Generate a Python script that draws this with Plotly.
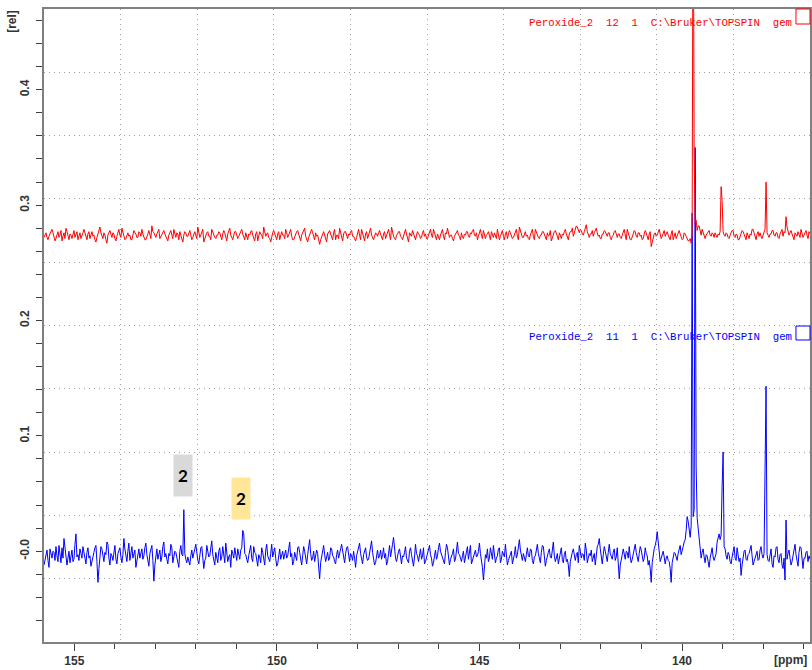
import numpy as np
import plotly.graph_objects as go

# ---------------- data ----------------
# displayed ppm window (left edge -> right edge of the plot)
PPM_LEFT = 155.75
PPM_RIGHT = 136.84

# spectrum intensities in milli-rel (1/1000 of [rel]), one value per display point, left -> right
blue_mrel = [
    -12, -7, -3, 1, -8, -14, 2, -3, -6, 0, -1, -8, 4, -4, -9, 5, -2, -10, 3, -6, 11, 2, -4, -12, -6, 0, -10, -3, 1, -9, -7, 6, 15, -5, -3, -8, 2, -2, -6, 4, -2, -9, -11, -1, 3, -6, -4, -13,
    -8, -4, -1, 3, 5, -9, -27, -15, -6, 4, 2, -5, -9, -1, -3, 8, 6, -6, -12, -2, -4, -8, 1, 5, -7, -11, -2, 0, 3, -5, -10, -3, 11, 2, -5, -9, 0, 7, -8, -3, 4, -6, -3, 1, -14, -8, -1, 2,
    -6, -1, 2, -7, -4, 3, 7, -3, -9, -13, -2, 1, 5, -8, -26, -12, -3, 2, -7, -4, 1, -9, -5, 4, 8, -5, -2, -7, -11, -2, -4, 6, 3, -10, -6, 0, -1, -5, -9, -14, 0, 5, -3, -4, 36, -2, -7, -10,
    -5, -9, -12, -4, 1, -6, -3, 2, 6, -2, -8, -11, -2, 3, 4, -7, -15, -8, -6, 5, 0, -5, -4, 1, 9, -3, -7, -12, -1, -6, -10, 0, 3, -8, -5, 4, -2, -10, 7, -1, -9, -5, -3, -14, 1, -2, -6, 3,
    -4, -8, 2, -3, -7, 1, 3, 18, 15, -2, -3, -7, -10, -4, 0, 5, -6, -9, 4, -1, -2, -6, -13, -3, -5, -10, 3, -1, -8, -12, 1, 6, -4, -6, -9, -2, 6, -5, -2, 3, -6, -13, -11, -4, 2, -7, -3, 0,
    -7, -3, 1, -6, -4, 2, 8, -5, -2, -12, -9, -1, -5, -8, 3, 4, -1, -7, -12, -4, 4, 0, -6, -11, -3, 3, 10, -2, -8, -6, 0, -9, -5, 1, -2, -13, -24, -10, -4, 2, 5, -3, -9, -5, -1, -8, -6, 3,
    2, -4, -5, -9, -11, -3, 1, -6, -3, 2, 6, -1, -7, -10, -2, 3, 4, -5, -9, -2, -4, -8, 0, -6, -14, -4, -1, 4, 7, -2, -6, -11, -3, 1, 3, -5, -8, -7, -2, 5, 9, -1, -5, -12, -10, -3, 1, -6,
    -4, 1, -7, -3, 3, -6, -2, -12, -9, -2, 5, -5, -1, 6, 12, 2, -6, -9, -3, 0, 2, -7, -11, -4, -5, -1, 4, -6, -8, -10, 0, 3, -3, -8, -13, -5, 6, -2, -4, -9, -1, 2, -7, -4, 3, -11, -9, -5,
    -2, 2, 5, -3, -6, -13, -10, -4, 1, -7, -4, 3, 7, 0, -3, -6, -8, -11, -1, 6, 3, -4, -12, -7, -5, -2, 2, -9, -7, 1, 8, -2, -3, -6, -9, -4, 0, -10, -5, 0, 4, -7, -2, 5, -11, -8, -6, -1,
    1, -5, -4, 0, 7, -2, -8, -14, -25, -12, -3, -6, 2, -9, -6, 3, -1, -7, 5, -3, -10, -6, -4, 2, 3, -10, -7, 0, -2, -5, 6, -4, -12, -8, -5, -1, 0, -11, -8, -3, 4, -6, -3, 4, 10, 1, -6, -8,
    -2, -6, -9, -3, 3, -4, -5, 2, 1, -8, -11, -5, -4, 1, 6, -2, -7, -10, -1, 5, 4, -6, -13, -8, -3, -1, 2, -5, -6, 3, 8, -4, -9, -6, -2, -11, -5, 1, 3, -7, -10, -3, 0, -9, -7, -12, -22, -9,
    -4, -1, 2, -5, -8, -3, -1, -10, 5, 0, -6, -2, -3, -8, 7, 1, -10, -6, -2, -4, 1, -9, -5, -2, -12, -3, 4, 6, 11, 2, -7, -11, -3, 4, 0, -6, -9, -1, 6, -2, -4, -7, -1, 2, -8, -5, 3, -13,
    -24, -12, -5, -3, 2, -4, -7, 0, -1, -6, 4, -5, -10, -7, -3, 2, 6, -1, -6, -9, -2, 4, 1, -4, -9, -6, 3, -2, -4, -12, -8, -15, -27, -10, -3, 2, 5, 9, 17, 6, -2, -9, -6, -3, 0, -5, -11, -6,
    -4, -8, -9, -15, -27, -10, -6, -1, -2, -5, -8, -2, 1, 5, -3, 2, 4, 8, 10, 18, 30, 26, 16, 12, 22, 293, 30, 36, 350, 73, 29, 20, 15, 6, -6, -1, 2, -5, -10, -3, -4, -9, -14, -6, -1, 3, -5, -8,
    -5, -2, 8, 12, 15, 10, 14, 56, 86, 4, 2, -4, -7, -1, -3, -9, -11, -5, -1, 4, -6, -8, 3, -2, -9, -6, -21, -12, -4, 0, 1, -7, -8, -3, -2, 2, 5, -4, -12, -9, -5, -1, 0, -8, -7, 1, 4, -3,
    -6, -2, 99, 143, -3, -8, -9, -2, 2, -11, -14, -4, -5, 3, 4, -7, -10, -3, -2, -12, -15, -6, -25, 27, -7, -2, 1, -6, -12, -9, -4, 2, 6, -3, -9, -13, -1, 4, 3, -8, -15, -6, -6, -1, 0, -9, -4, -7,
]

red_mrel = [
    272, 275, 276, 272, 270, 273, 275, 277, 279, 276, 273, 269, 271, 274, 277, 272, 274, 278, 269, 273, 276, 271, 280, 277, 273, 270, 275, 274, 271, 276, 278, 272, 274, 277, 270, 274, 276, 271, 273, 276, 279, 275, 272, 270, 275, 277, 271, 274,
    277, 273, 274, 270, 268, 272, 275, 278, 281, 276, 273, 271, 276, 274, 270, 267, 274, 277, 278, 275, 272, 276, 275, 271, 269, 273, 277, 279, 274, 272, 280, 276, 273, 270, 271, 275, 276, 273, 274, 270, 270, 274, 278, 276, 275, 272, 272, 277,
    276, 273, 279, 275, 273, 270, 270, 274, 275, 278, 274, 271, 282, 277, 276, 273, 272, 275, 277, 279, 271, 273, 274, 277, 278, 275, 273, 270, 269, 274, 276, 278, 274, 271, 279, 275, 272, 276, 275, 270, 277, 274, 271, 268, 274, 277, 276, 273,
    273, 276, 278, 274, 270, 272, 275, 277, 274, 271, 281, 276, 272, 274, 276, 279, 268, 271, 274, 276, 277, 273, 273, 270, 279, 276, 275, 272, 271, 274, 274, 277, 276, 273, 270, 275, 278, 276, 273, 269, 275, 277, 280, 274, 272, 270, 274, 277,
    277, 274, 271, 273, 275, 278, 279, 275, 273, 270, 276, 272, 270, 275, 274, 277, 278, 274, 272, 269, 275, 277, 269, 273, 277, 275, 274, 271, 281, 277, 273, 275, 276, 272, 271, 268, 274, 276, 278, 275, 272, 270, 275, 277, 270, 273, 277, 274,
    274, 271, 279, 276, 272, 274, 276, 279, 273, 270, 270, 273, 275, 277, 278, 274, 271, 269, 274, 276, 277, 280, 273, 271, 268, 272, 275, 277, 279, 276, 272, 270, 276, 273, 274, 271, 266, 270, 273, 276, 277, 274, 271, 268, 275, 277, 278, 275,
    273, 270, 276, 279, 270, 274, 274, 271, 280, 276, 272, 269, 275, 277, 277, 274, 271, 275, 274, 277, 278, 273, 273, 271, 269, 272, 276, 279, 274, 270, 279, 276, 272, 269, 275, 277, 271, 274, 277, 280, 274, 271, 270, 273, 276, 275, 273, 276,
    278, 275, 272, 270, 275, 277, 271, 274, 276, 279, 274, 270, 281, 276, 273, 271, 270, 274, 275, 277, 277, 273, 272, 270, 274, 276, 279, 275, 271, 268, 276, 274, 273, 278, 275, 272, 270, 274, 277, 275, 274, 271, 272, 276, 278, 273, 275, 271,
    271, 274, 276, 279, 274, 272, 279, 276, 272, 270, 275, 273, 270, 274, 277, 279, 273, 270, 276, 275, 280, 277, 272, 274, 274, 271, 269, 273, 275, 277, 278, 274, 273, 270, 276, 272, 271, 275, 274, 277, 277, 273, 272, 276, 275, 278, 279, 274,
    273, 276, 270, 273, 276, 279, 274, 271, 278, 275, 271, 274, 275, 277, 273, 270, 277, 274, 272, 276, 274, 271, 279, 275, 270, 273, 276, 278, 273, 270, 275, 277, 271, 274, 278, 276, 274, 271, 272, 275, 276, 279, 273, 270, 281, 277, 275, 272,
    272, 275, 277, 273, 274, 271, 270, 274, 276, 279, 273, 270, 279, 276, 275, 272, 271, 274, 274, 277, 277, 275, 272, 270, 276, 273, 274, 278, 269, 272, 275, 277, 278, 274, 273, 270, 276, 274, 271, 275, 274, 277, 279, 275, 272, 270, 275, 277,
    277, 280, 273, 276, 279, 282, 281, 278, 276, 279, 278, 275, 274, 277, 280, 283, 277, 274, 272, 275, 275, 278, 273, 276, 278, 280, 276, 273, 274, 271, 271, 275, 275, 278, 277, 274, 273, 276, 276, 272, 270, 273, 274, 277, 278, 275, 272, 275,
    275, 272, 271, 274, 276, 279, 274, 270, 279, 276, 273, 270, 270, 274, 275, 278, 277, 273, 272, 276, 276, 273, 274, 270, 271, 275, 278, 276, 273, 270, 275, 277, 264, 268, 272, 275, 276, 273, 274, 277, 279, 275, 271, 273, 275, 278, 273, 276,
    277, 274, 272, 270, 275, 278, 270, 273, 276, 271, 274, 277, 278, 275, 273, 270, 271, 276, 275, 273, 272, 269, 269, 271, 267, 275, 620, 345, 285, 287, 278, 282, 282, 276, 274, 279, 276, 272, 271, 274, 275, 277, 278, 274, 273, 276, 275, 272,
    276, 274, 272, 275, 274, 277, 316, 304, 277, 274, 273, 276, 275, 272, 271, 274, 276, 278, 278, 273, 272, 275, 274, 270, 270, 273, 275, 278, 277, 274, 273, 270, 276, 272, 271, 275, 274, 279, 279, 276, 272, 270, 275, 277, 273, 276, 273, 271,
    274, 277, 279, 320, 276, 274, 272, 275, 275, 278, 278, 274, 273, 276, 276, 272, 271, 275, 277, 279, 273, 277, 276, 290, 281, 278, 274, 276, 278, 275, 272, 270, 276, 274, 273, 277, 275, 272, 279, 276, 272, 274, 276, 278, 274, 271, 277, 275,
]

# axis ticks
x_major_dtick = 5
x_minor_dtick = 1
y_tick_vals = [0.0, 0.1, 0.2, 0.3, 0.4]
y_tick_text = ["-0.0", "0.1", "0.2", "0.3", "0.4"]
Y_MIN, Y_MAX = -0.0787, 0.470

# dataset titles
red_title = "Peroxide_2  12  1  C:\\Bruker\\TOPSPIN  gem"
blue_title = "Peroxide_2  11  1  C:\\Bruker\\TOPSPIN  gem"

# peak labels (ppm, rel, text, colour)
peak_labels = [
    (152.32, 0.0659, "2", "#d9d9d9"),
    (150.88, 0.0455, "2", "#ffe699"),
]

# ---------------- figure ----------------
ppm_blue = np.linspace(PPM_LEFT, PPM_RIGHT, len(blue_mrel))
ppm_red = np.linspace(PPM_LEFT, PPM_RIGHT, len(red_mrel))
blue_rel = np.array(blue_mrel) / 1000.0
red_rel = np.array(red_mrel) / 1000.0

fig = go.Figure()
# empty trace that carries the 10x10 Bruker screen grid axes
fig.add_trace(go.Scatter(x=[], y=[], xaxis="x2", yaxis="y2", showlegend=False, hoverinfo="skip"))
fig.add_trace(go.Scatter(x=ppm_blue, y=blue_rel, mode="lines", line=dict(color="#0000ff", width=1),
                         showlegend=False, name="11"))
fig.add_trace(go.Scatter(x=ppm_red, y=red_rel, mode="lines", line=dict(color="#ff0000", width=1),
                         showlegend=False, name="12"))

tickfont = dict(family="Liberation Sans", size=12, color="#333333", weight="bold")
axis_line = "#808080"

fig.update_layout(
    width=812, height=670,
    margin=dict(l=44, r=2, t=9, b=28, autoexpand=False),
    paper_bgcolor="white", plot_bgcolor="white",
    xaxis=dict(
        range=[PPM_LEFT, PPM_RIGHT], tickmode="linear", tick0=0, dtick=x_major_dtick,
        ticks="outside", ticklen=7, tickwidth=1, tickcolor="#404040",
        minor=dict(tickmode="linear", tick0=0, dtick=x_minor_dtick, ticks="outside",
                   ticklen=5, tickwidth=1, tickcolor="#404040", showgrid=False),
        showgrid=False, zeroline=False, showline=True, linecolor=axis_line, linewidth=1.5,
        mirror=True, tickfont=tickfont, automargin=False,
    ),
    yaxis=dict(
        range=[Y_MIN, Y_MAX], tickmode="array", tickvals=y_tick_vals, ticktext=y_tick_text,
        ticks="outside", ticklen=6, tickwidth=1, tickcolor="#404040", tickangle=-90,
        ticklabelstandoff=2,
        minor=dict(tickmode="linear", tick0=0, dtick=0.02, ticks="outside",
                   ticklen=6, tickwidth=1, tickcolor="#404040", showgrid=False),
        showgrid=False, zeroline=False, showline=True, linecolor=axis_line, linewidth=1.5,
        mirror=True, tickfont=tickfont, automargin=False,
    ),
    xaxis2=dict(overlaying="x", range=[0, 10], tickmode="linear", tick0=0, dtick=1,
                showgrid=True, gridcolor="#a0a0a0", griddash="1px,4px", gridwidth=1,
                showticklabels=False, ticks="", showline=False, zeroline=False, side="top"),
    yaxis2=dict(overlaying="y", range=[0, 10], tickmode="linear", tick0=0, dtick=1,
                showgrid=True, gridcolor="#a0a0a0", griddash="1px,4px", gridwidth=1,
                showticklabels=False, ticks="", showline=False, zeroline=False, side="right"),
)

nb = lambda s: s.replace(" ", "\u00a0")
annotations = [
    dict(text=nb(red_title), xref="paper", yref="paper", x=0.979, y=0.978, xanchor="right",
         yanchor="middle", showarrow=False,
         font=dict(family="Liberation Mono", size=10.7, color="#ff0000")),
    dict(text=nb(blue_title), xref="paper", yref="paper", x=0.979, y=0.4813, xanchor="right",
         yanchor="middle", showarrow=False,
         font=dict(family="Liberation Mono", size=10.7, color="#0000ff")),
    dict(text="[ppm]", xref="paper", yref="paper", x=0.974, y=-0.028, xanchor="center",
         yanchor="middle", showarrow=False, font=tickfont),
    dict(text="[rel]", xref="paper", yref="paper", x=-0.042, y=0.981, xanchor="center",
         yanchor="middle", showarrow=False, textangle=-90, font=tickfont),
]
for px, val, txt, col in peak_labels:
    annotations.append(dict(text="<b>%s</b>" % txt, x=px, y=val, xref="x", yref="y",
                            showarrow=False, bgcolor=col, width=18, height=41, borderpad=0,
                            font=dict(family="Lato", size=17, color="#000000")))
fig.update_layout(annotations=annotations)

shapes = [
    dict(type="rect", xref="paper", yref="paper", x0=0.9817, x1=1.0, y0=0.9763, y1=1.0,
         line=dict(color="#ff0000", width=1)),
    dict(type="rect", xref="paper", yref="paper", x0=0.9817, x1=1.0, y0=0.4771, y1=0.4992,
         line=dict(color="#0000ff", width=1)),
]
fig.update_layout(shapes=shapes)

fig.write_html("out.html", config={"displayModeBar": False},
               post_script="document.body.style.margin='0';document.body.style.overflow='hidden';")
